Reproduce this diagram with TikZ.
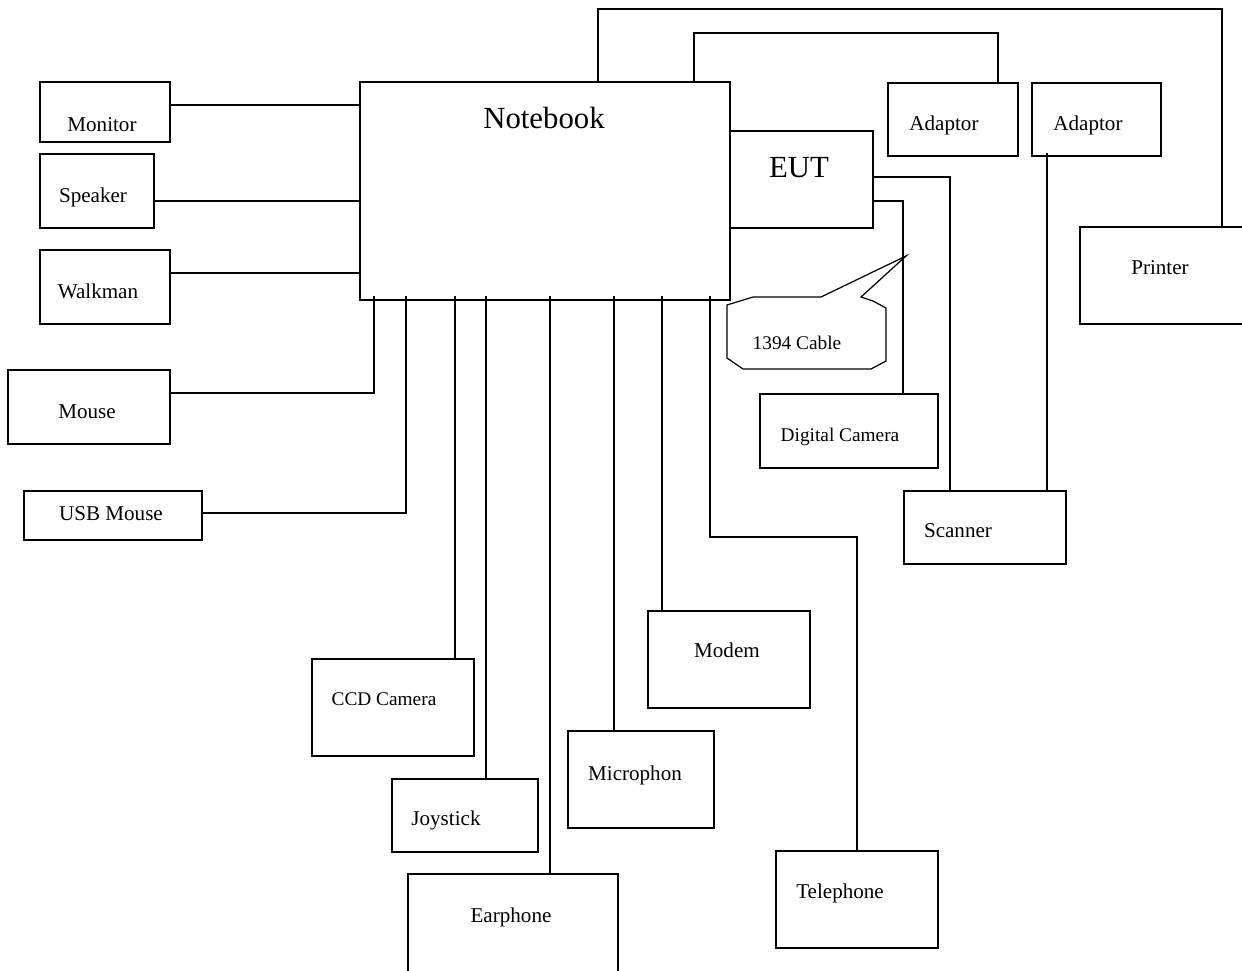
\documentclass[tikz,border=0pt]{standalone}
\usepackage{fontspec}
\setmainfont{Liberation Serif}

\tikzset{
    unit/.style={draw, line width=.7pt, inner sep=0pt, outer sep=0pt, anchor=north west},
    tag/.style={inner sep=0pt, anchor=base, yshift=-.14cm, font=\fontsize{12}{14}\selectfont},
    narrowtag/.style={tag, font=\fontsize{11}{13}\selectfont},
    bigtag/.style={inner sep=0pt, anchor=base, yshift=-.2cm, font=\fontsize{17.5}{20}\selectfont},
    wire/.style={line width=.7pt}
}

\begin{document}
\begin{tikzpicture}[x=0.02cm, y=-0.02cm]
    \useasboundingbox (0,0) rectangle (1242,971);

    % Centre: notebook and EUT
    \node[unit, minimum width=7.4cm, minimum height=4.36cm] (notebook) at (360,82) {};
    \node[bigtag] (notebook-t) at (544,118) {Notebook};
    \node[unit, minimum width=2.86cm, minimum height=1.94cm] (eut) at (730,131) {};
    \node[bigtag] (eut-t) at (799,167) {EUT};

    % Left side
    \node[unit, minimum width=2.6cm, minimum height=1.2cm] (monitor) at (40,82) {};
    \node[tag] (monitor-t) at (102,124) {Monitor};
    \node[unit, minimum width=2.28cm, minimum height=1.48cm] (speaker) at (40,154) {};
    \node[tag] (speaker-t) at (93,195) {Speaker};
    \node[unit, minimum width=2.6cm, minimum height=1.48cm] (walkman) at (40,250) {};
    \node[tag] (walkman-t) at (98,291) {Walkman};
    \node[unit, minimum width=3.24cm, minimum height=1.48cm] (mouse) at (8,370) {};
    \node[tag] (mouse-t) at (87,411) {Mouse};
    \node[unit, minimum width=3.56cm, minimum height=.98cm] (usbmouse) at (24,491) {};
    \node[tag] (usbmouse-t) at (111,513) {USB Mouse};

    % Right side
    \node[unit, minimum width=2.6cm, minimum height=1.46cm] (adaptor1) at (888,83) {};
    \node[tag] (adaptor1-t) at (944,123) {Adaptor};
    \node[unit, minimum width=2.58cm, minimum height=1.46cm] (adaptor2) at (1032,83) {};
    \node[tag] (adaptor2-t) at (1088,123) {Adaptor};
    \node[unit, minimum width=3.3cm, minimum height=1.94cm] (printer) at (1080,227) {};
    \node[tag] (printer-t) at (1160,267) {Printer};
    \node[unit, minimum width=3.56cm, minimum height=1.48cm] (digicam) at (760,394) {};
    \node[narrowtag] (digicam-t) at (840,434) {Digital Camera};
    \node[unit, minimum width=3.24cm, minimum height=1.46cm] (scanner) at (904,491) {};
    \node[tag] (scanner-t) at (958,530) {Scanner};

    % Bottom
    \node[unit, minimum width=3.24cm, minimum height=1.94cm] (modem) at (648,611) {};
    \node[tag] (modem-t) at (727,650) {Modem};
    \node[unit, minimum width=3.24cm, minimum height=1.94cm] (ccd) at (312,659) {};
    \node[narrowtag] (ccd-t) at (384,698) {CCD Camera};
    \node[unit, minimum width=2.92cm, minimum height=1.94cm] (micro) at (568,731) {};
    \node[tag] (micro-t) at (635,773) {Microphon};
    \node[unit, minimum width=2.92cm, minimum height=1.46cm] (joystick) at (392,779) {};
    \node[tag] (joystick-t) at (446,818) {Joystick};
    \node[unit, minimum width=4.2cm, minimum height=2.2cm] (earphone) at (408,874) {};
    \node[tag] (earphone-t) at (511,915) {Earphone};
    \node[unit, minimum width=3.24cm, minimum height=1.94cm] (phone) at (776,851) {};
    \node[tag] (phone-t) at (840,891) {Telephone};

    % 1394 cable callout
    \draw[wire] (753,297) -- (821,297) -- (906,256) -- (861,297) -- (873,301) -- (886,308)
        -- (886,361) -- (871,369) -- (743,369) -- (727,358) -- (727,305) -- cycle;
    \node[narrowtag] (cable-t) at (797,342) {1394 Cable};

    % Ports
    \coordinate (monitor-p) at ([yshift=.14cm]monitor.east);
    \coordinate (speaker-p) at ([yshift=-.2cm]speaker.east);
    \coordinate (walkman-p) at ([yshift=.28cm]walkman.east);
    \coordinate (nb-b1) at ([xshift=.28cm, yshift=.08cm]notebook.south west);
    \coordinate (nb-b2) at ([xshift=.92cm, yshift=.08cm]notebook.south west);
    \coordinate (nb-b3) at ([xshift=1.9cm, yshift=.08cm]notebook.south west);
    \coordinate (nb-b4) at ([xshift=2.52cm, yshift=.08cm]notebook.south west);
    \coordinate (nb-b5) at ([xshift=3.8cm, yshift=.08cm]notebook.south west);
    \coordinate (nb-b6) at ([xshift=5.08cm, yshift=.08cm]notebook.south west);
    \coordinate (nb-b7) at ([xshift=6.04cm, yshift=.08cm]notebook.south west);
    \coordinate (nb-b8) at ([xshift=7cm, yshift=.08cm]notebook.south west);
    \coordinate (nb-t1) at ([xshift=4.76cm]notebook.north west);
    \coordinate (nb-t2) at ([xshift=6.68cm]notebook.north west);
    \coordinate (printer-p) at ([xshift=1.19cm]printer.north);
    \coordinate (adaptor1-p) at ([xshift=.9cm]adaptor1.north);
    \coordinate (adaptor2-p) at ([xshift=-.99cm, yshift=.06cm]adaptor2.south);
    \coordinate (eut-p1) at ([yshift=.05cm]eut.east);
    \coordinate (eut-p2) at ([yshift=-.43cm]eut.east);
    \coordinate (scanner-p) at ([xshift=-.7cm]scanner.north);
    \coordinate (digicam-p) at ([xshift=1.08cm]digicam.north);

    % Cables
    \draw[wire] (monitor-p) -- (monitor-p -| notebook.west);
    \draw[wire] (speaker-p) -- (speaker-p -| notebook.west);
    \draw[wire] (walkman-p) -- (walkman-p -| notebook.west);
    \draw[wire] (nb-b1) |- ([yshift=.28cm]mouse.east);
    \draw[wire] (nb-b2) |- ([yshift=.05cm]usbmouse.east);
    \draw[wire] (nb-b3) -- (nb-b3 |- ccd.north);
    \draw[wire] (nb-b4) -- (nb-b4 |- joystick.north);
    \draw[wire] (nb-b5) -- (nb-b5 |- earphone.north);
    \draw[wire] (nb-b6) -- (nb-b6 |- micro.north);
    \draw[wire] (nb-b7) -- (nb-b7 |- modem.north);
    \draw[wire] (nb-b8) -- ++(0,241) -| (phone.north);
    \draw[wire] (nb-t1) -- ++(0,-73) -| (printer-p);
    \draw[wire] (nb-t2) -- ++(0,-49) -| (adaptor1-p);
    \draw[wire] (eut-p1) -| (scanner-p);
    \draw[wire] (eut-p2) -| (digicam-p);
    \draw[wire] (adaptor2-p) -- (adaptor2-p |- scanner.north);

\end{tikzpicture}
\end{document}
